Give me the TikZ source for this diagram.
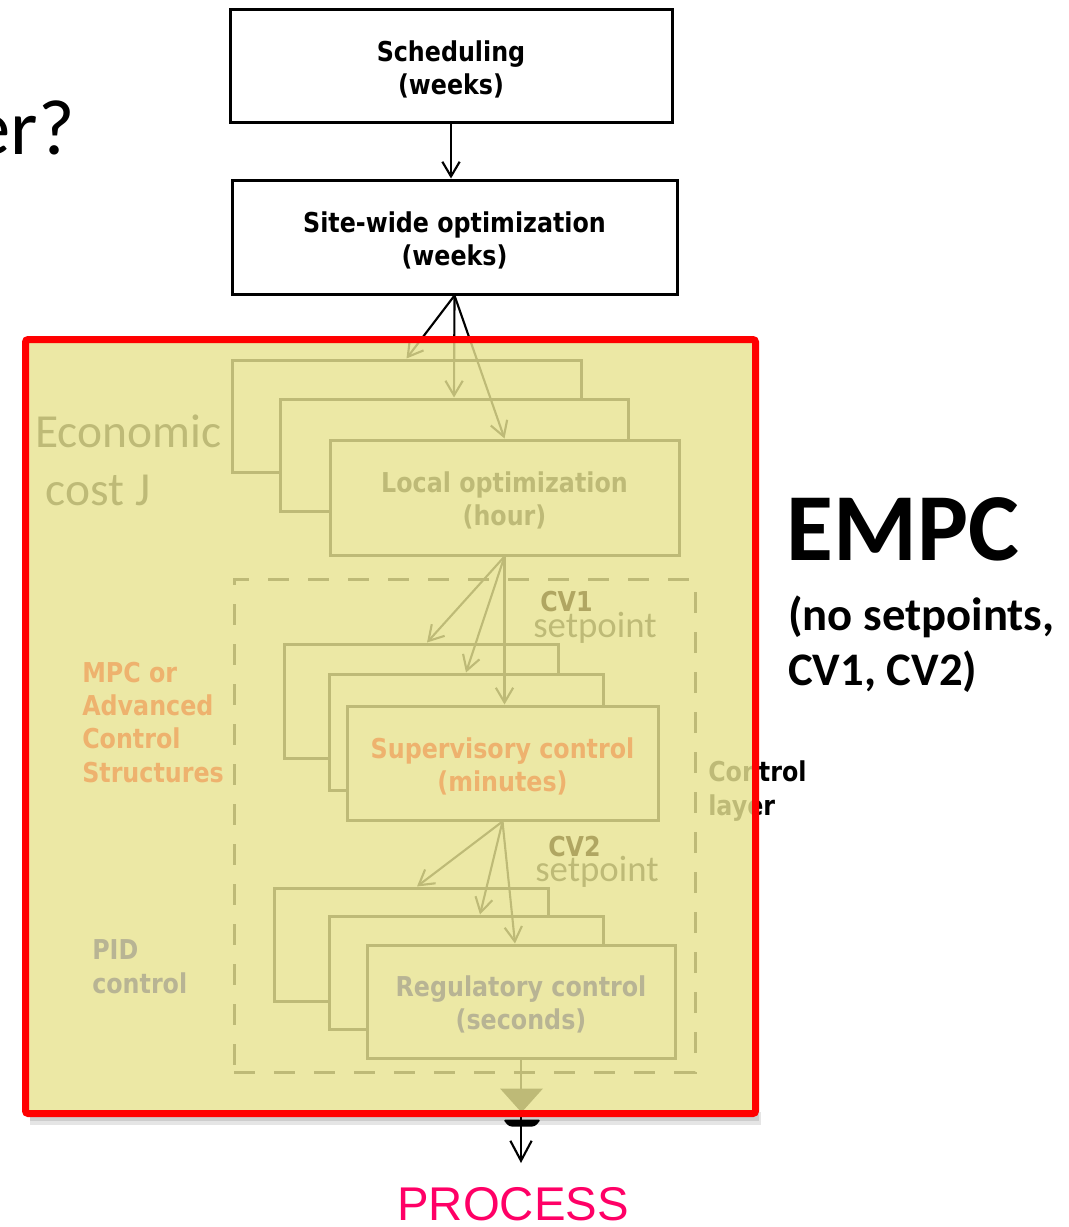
\documentclass[tikz,border=0pt]{standalone}
\usepackage{fontspec}
\usetikzlibrary{arrows.meta,fit,calc}
\newfontfamily\calib{Carlito}
\newfontfamily\tahb{DejaVu Sans}[FakeStretch=0.87]
\newfontfamily\arialf{Liberation Sans}
\newcommand\boxfont{\tahb\bfseries\fontsize{20.5}{25}\selectfont}
\definecolor{ovl}{RGB}{232,228,146}
\definecolor{orng}{RGB}{238,178,110}
\definecolor{grayt}{RGB}{184,180,148}
\definecolor{cvc}{RGB}{176,166,98}
\definecolor{procc}{RGB}{255,0,102}
\begin{document}
\begin{tikzpicture}[x=0.75pt,y=-0.75pt,
  box/.style={draw=black, line width=2.25pt, fill=white, inner sep=0pt},
  boxtext/.style={font=\boxfont, align=center, inner sep=0pt, yshift=-2.4pt},
  arr/.style={line width=1.6pt, -{Straight Barb[length=11pt,width=13pt]}},
  lbl/.style={anchor=base west, align=left, inner sep=0pt}]
\useasboundingbox (0,0) rectangle (1068,1227);
\fill[white] (0,0) rectangle (1068,1227);

% heading fragment
\node[anchor=base east, inner sep=0pt, font=\calib\fontsize{59}{59}\selectfont] (question) at (75,155) {er?};

% upper planning layers
\node[box, fit={(230,10) (672,123)}] (sched) {};
\node[boxtext] (schedtext) at (sched.center) {Scheduling\\(weeks)};
\node[box, fit={(232,180) (677,294)}] (site) {};
\node[boxtext] (sitetext) at (site.center) {Site-wide optimization\\(weeks)};
\draw[arr] (sched.south) -- (sched.south |- site.north);

% local optimization stack
\node[box, fit={(232,360) (581,472)}] (lo1) {};
\node[box, fit={(280,399) (628,511)}] (lo2) {};
\node[box, fit={(330,440) (679,555)}] (lo3) {};
\node[boxtext] (lotext) at (lo3.center) {Local optimization\\(hour)};
\draw[arr] (site.south) -- (lo1.north);
\draw[arr] (site.south) -- (lo2.north);
\draw[arr] (site.south) -- (lo3.north);

\node[lbl, font=\calib\fontsize{35.6}{43.5}\selectfont] (econ) at (35,505) {Economic\\\hspace*{8pt}cost J};

% control layer frame
\node[draw=black, line width=2.25pt, dash pattern=on 16pt off 14pt, inner sep=0pt,
      fit={(234,579) (695,1072)}] (ctrl) {};

% supervisory stack
\node[box, fit={(284,644) (558,758)}] (su1) {};
\node[box, fit={(329,674) (603,790)}] (su2) {};
\node[box, fit={(347,706) (658,820)}] (su3) {};
\draw[arr] (lo3.south) -- ([xshift=4.5pt]su1.north);
\draw[arr] (lo3.south) -- (su2.north);
\draw[arr] (lo3.south) -- (lo3.south |- su3.north);

% regulatory stack
\node[box, fit={(274,888) (548,1001)}] (re1) {};
\node[box, fit={(329,916) (603,1029)}] (re2) {};
\node[box, fit={(367,945) (675,1058)}] (re3) {};
\draw[arr] (su3.south) -- ([xshift=4.5pt]re1.north);
\draw[arr] (su3.south) -- ([xshift=10.5pt]re2.north);
\draw[arr] (su3.south) -- ([xshift=-4.5pt]re3.north);

\node[lbl, font=\calib\fontsize{27.6}{27.6}\selectfont] (sp1) at (533,637) {setpoint};
\node[lbl, font=\calib\fontsize{27.6}{27.6}\selectfont] (sp2) at (535,881) {setpoint};
\node[lbl, font=\boxfont] (layer) at (708,815) {Control\\layer};

% soft shadow under the frame
\fill[black, opacity=0.10] (30,1112) rectangle (761,1125);
\fill[black, opacity=0.10] (30,1112) rectangle (759,1121);

% output to the process
\coordinate (ptip) at (522,1163);
\draw[line width=1.6pt, -{Straight Barb[length=15pt,width=16pt]}] (re3.south) -- (re3.south |- ptip);
\fill ($(re3.south)+(-21,29)$) -- ($(re3.south)+(22,29)$) -- ($(re3.south)+(0.5,53)$) -- cycle;
\fill[rounded corners=2pt] ($(re3.south)+(-18,60)$) -- ($(re3.south)+(20,60)$) -- ($(re3.south)+(14,67)$) -- ($(re3.south)+(-12,67)$) -- cycle;

% economic MPC region
\node[fit={(25.5,339.5) (755.5,1113.5)}, inner sep=0pt, fill=ovl, fill opacity=0.82,
      draw=red, line width=5.25pt, rounded corners=2pt] (empcbox) {};

\node[lbl, font=\boxfont, text=orng] (mpc) at (82,782) {MPC or\\Advanced\\Control\\Structures};
\node[boxtext, text=orng] (sutext) at (su3.center) {Supervisory control\\(minutes)};
\node[boxtext, text=grayt] (retext) at (re3.center) {Regulatory control\\(seconds)};
\node[lbl, font=\boxfont, text=grayt] (pid) at (92,993) {PID\\control};
\node[lbl, font=\boxfont, text=cvc] (cv1) at (540,611) {CV1};
\node[lbl, font=\boxfont, text=cvc] (cv2) at (548,856) {CV2};

% right-hand caption
\node[lbl, font=\calib\bfseries\fontsize{72}{72}\selectfont] (empc) at (786,560) {EMPC};
\node[lbl, font=\calib\bfseries\fontsize{35}{41}\selectfont] (empcnote) at (788,685) {(no setpoints,\\CV1, CV2)};

\node[anchor=base, inner sep=0pt, font=\arialf\fontsize{35.5}{35.5}\selectfont, text=procc] (process) at (513,1220) {PROCESS};
\end{tikzpicture}
\end{document}
